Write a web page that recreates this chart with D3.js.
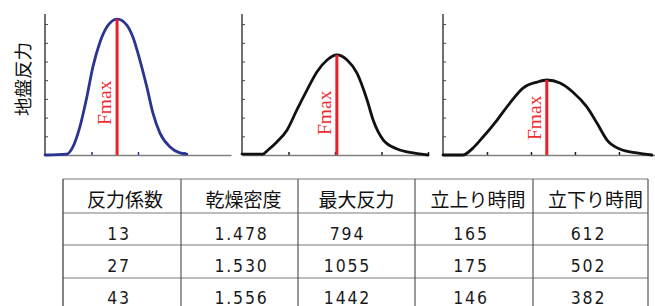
<!DOCTYPE html>
<html lang="ja">
<head>
<meta charset="UTF-8">
<title>地盤反力</title>
<script src="https://d3js.org/d3.v7.min.js"></script>
<style>
  body { margin: 0; background: #fff; }
  svg { display: block; }
</style>
</head>
<body>
<script>
// ---- data ----
// curve samples: x in axis units (tick spacing), y in tick units
const curve1X = [0, 0.47, 0.60, 0.75, 0.90, 1.03, 1.18, 1.33, 1.55, 1.76, 1.89, 2.04, 2.19, 2.32, 2.47, 2.69, 2.90, 3.05];
const curve1Y = [0, 0.05, 0.43, 1.50, 3.10, 4.71, 6.02, 6.84, 7.27, 6.95, 6.31, 5.08, 3.64, 2.25, 1.18, 0.43, 0.11, 0.05];
const curve2X = [0, 0.45, 0.56, 0.75, 0.97, 1.18, 1.40, 1.61, 1.83, 2.04, 2.26, 2.47, 2.69, 2.82, 3.04, 3.34, 3.68, 4.0];
const curve2Y = [0.05, 0.05, 0.27, 0.70, 1.34, 2.41, 3.48, 4.44, 5.08, 5.35, 5.08, 4.39, 2.94, 1.87, 0.80, 0.32, 0.11, 0];
const curve3X = [0, 0.45, 0.68, 0.91, 1.23, 1.52, 1.82, 2.14, 2.36, 2.66, 2.95, 3.27, 3.50, 3.73, 4.02, 4.41, 4.75];
const curve3Y = [0, 0, 0.37, 0.96, 1.87, 2.78, 3.58, 3.90, 4.01, 3.85, 3.37, 2.57, 1.71, 0.80, 0.32, 0.11, 0];
const peakX = [1.55, 2.04, 2.36];
const peakY = [7.27, 5.35, 4.01];
const yTicks = [1, 2, 3, 4, 5, 6, 7];
const xTicks = [[1, 2, 3], [1, 2, 3, 4], [1, 2, 3, 4]];
const yLabel = "地盤反力";
const peakLabel = "Fmax";

// table
const headers = ["反力係数", "乾燥密度", "最大反力", "立上り時間", "立下り時間"];
const coef = ["13", "27", "43"];
const density = ["1.478", "1.530", "1.556"];
const maxForce = ["794", "1055", "1442"];
const riseTime = ["165", "175", "146"];
const fallTime = ["612", "502", "382"];

// ---- layout ----
const W = 655, H = 306;
const plotTop = 14, base = 155;
const panels = [
  { left: 45, right: 231, xMax: 4, color: "#2b3490", labelStart: 125 },
  { left: 242, right: 428, xMax: 4, color: "#111", labelStart: 135 },
  { left: 443, right: 655, xMax: 4.82, color: "#111", labelStart: 140 }
];
const curves = [[curve1X, curve1Y], [curve2X, curve2Y], [curve3X, curve3Y]];

const svg = d3.select("body").append("svg")
  .attr("width", W).attr("height", H);

const y = d3.scaleLinear().domain([0, 7.54]).range([base, plotTop]);

panels.forEach((p, i) => {
  const x = d3.scaleLinear().domain([0, p.xMax]).range([p.left, p.right]);
  const g = svg.append("g");

  // x axis (ticks point up, grey line)
  const xa = g.append("g")
    .attr("transform", `translate(0,${base})`)
    .call(d3.axisTop(x).tickValues(xTicks[i]).tickSize(3).tickSizeOuter(0).tickFormat(""));
  xa.select(".domain").attr("stroke", "#808080").attr("stroke-width", 1.3);
  xa.selectAll(".tick line").attr("stroke", i === 0 ? p.color : "#222").attr("stroke-width", 1.5);

  // y axis (ticks point right)
  const ya = g.append("g")
    .attr("transform", `translate(${p.left},0)`)
    .call(d3.axisRight(y).tickValues(yTicks).tickSize(3).tickSizeOuter(0).tickFormat(""));
  ya.select(".domain").attr("stroke", "#222").attr("stroke-width", 1.3)
    .attr("d", `M0,${plotTop}V${base}`);
  ya.selectAll(".tick line").attr("stroke", "#444");

  // curve
  const pts = curves[i][0].map((v, k) => [v, curves[i][1][k]]);
  g.append("path")
    .datum(pts)
    .attr("fill", "none")
    .attr("stroke", p.color)
    .attr("stroke-width", 2.8)
    .attr("stroke-linecap", "round")
    .attr("d", d3.line().x(d => x(d[0])).y(d => y(d[1])).curve(d3.curveMonotoneX));

  // peak line
  g.append("line")
    .attr("x1", x(peakX[i])).attr("x2", x(peakX[i]))
    .attr("y1", y(0)).attr("y2", y(peakY[i]))
    .attr("stroke", "#e8202a").attr("stroke-width", 3);

  g.append("text")
    .attr("transform", `translate(${x(peakX[i]) - 6},${p.labelStart}) rotate(-90)`)
    .attr("font-family", "'Liberation Serif', 'Times New Roman', serif")
    .attr("font-size", 19.5)
    .attr("fill", "#ee2b30")
    .text(peakLabel);
});

// y label
svg.append("text")
  .attr("transform", "translate(30,79) rotate(-90)")
  .attr("text-anchor", "middle")
  .attr("font-family", "'Noto Sans CJK JP', sans-serif")
  .attr("font-size", 18.5)
  .attr("fill", "#111")
  .text(yLabel);

// ---- table ----
const colX = [63, 181, 298, 415, 533, 648];
const rowY = [179, 213, 245, 278];
const tbl = svg.append("g");

rowY.forEach(v => {
  tbl.append("line").attr("x1", colX[0]).attr("x2", colX[5])
    .attr("y1", v).attr("y2", v)
    .attr("stroke", "#7a7a7a").attr("stroke-width", 1.2);
});
colX.forEach((v, i) => {
  tbl.append("line").attr("x1", v).attr("x2", v)
    .attr("y1", rowY[0]).attr("y2", H + 2)
    .attr("stroke", i === 0 ? "#333" : "#555").attr("stroke-width", 1.2);
});

const headShift = [3, 4, 0, 4, 5];
const dataShift = [-4, 1, -10, -4, -3];
const cols = [coef, density, maxForce, riseTime, fallTime];
const baselines = [240, 272, 304];

headers.forEach((h, c) => {
  tbl.append("text")
    .attr("x", (colX[c] + colX[c + 1]) / 2 + headShift[c])
    .attr("y", 207)
    .attr("text-anchor", "middle")
    .attr("font-family", "'Noto Sans CJK JP', sans-serif")
    .attr("font-size", 19)
    .attr("fill", "#111")
    .text(h);
});

cols.forEach((col, c) => {
  col.forEach((v, r) => {
    tbl.append("text")
      .attr("x", (colX[c] + colX[c + 1]) / 2 + dataShift[c] + 1)
      .attr("y", baselines[r])
      .attr("text-anchor", "middle")
      .attr("font-family", "'DejaVu Sans Condensed', 'Liberation Sans Narrow', sans-serif")
      .attr("font-size", 17.5)
      .attr("letter-spacing", 1.8)
      .attr("fill", "#1a1a1a")
      .text(v);
  });
});
</script>
</body>
</html>
